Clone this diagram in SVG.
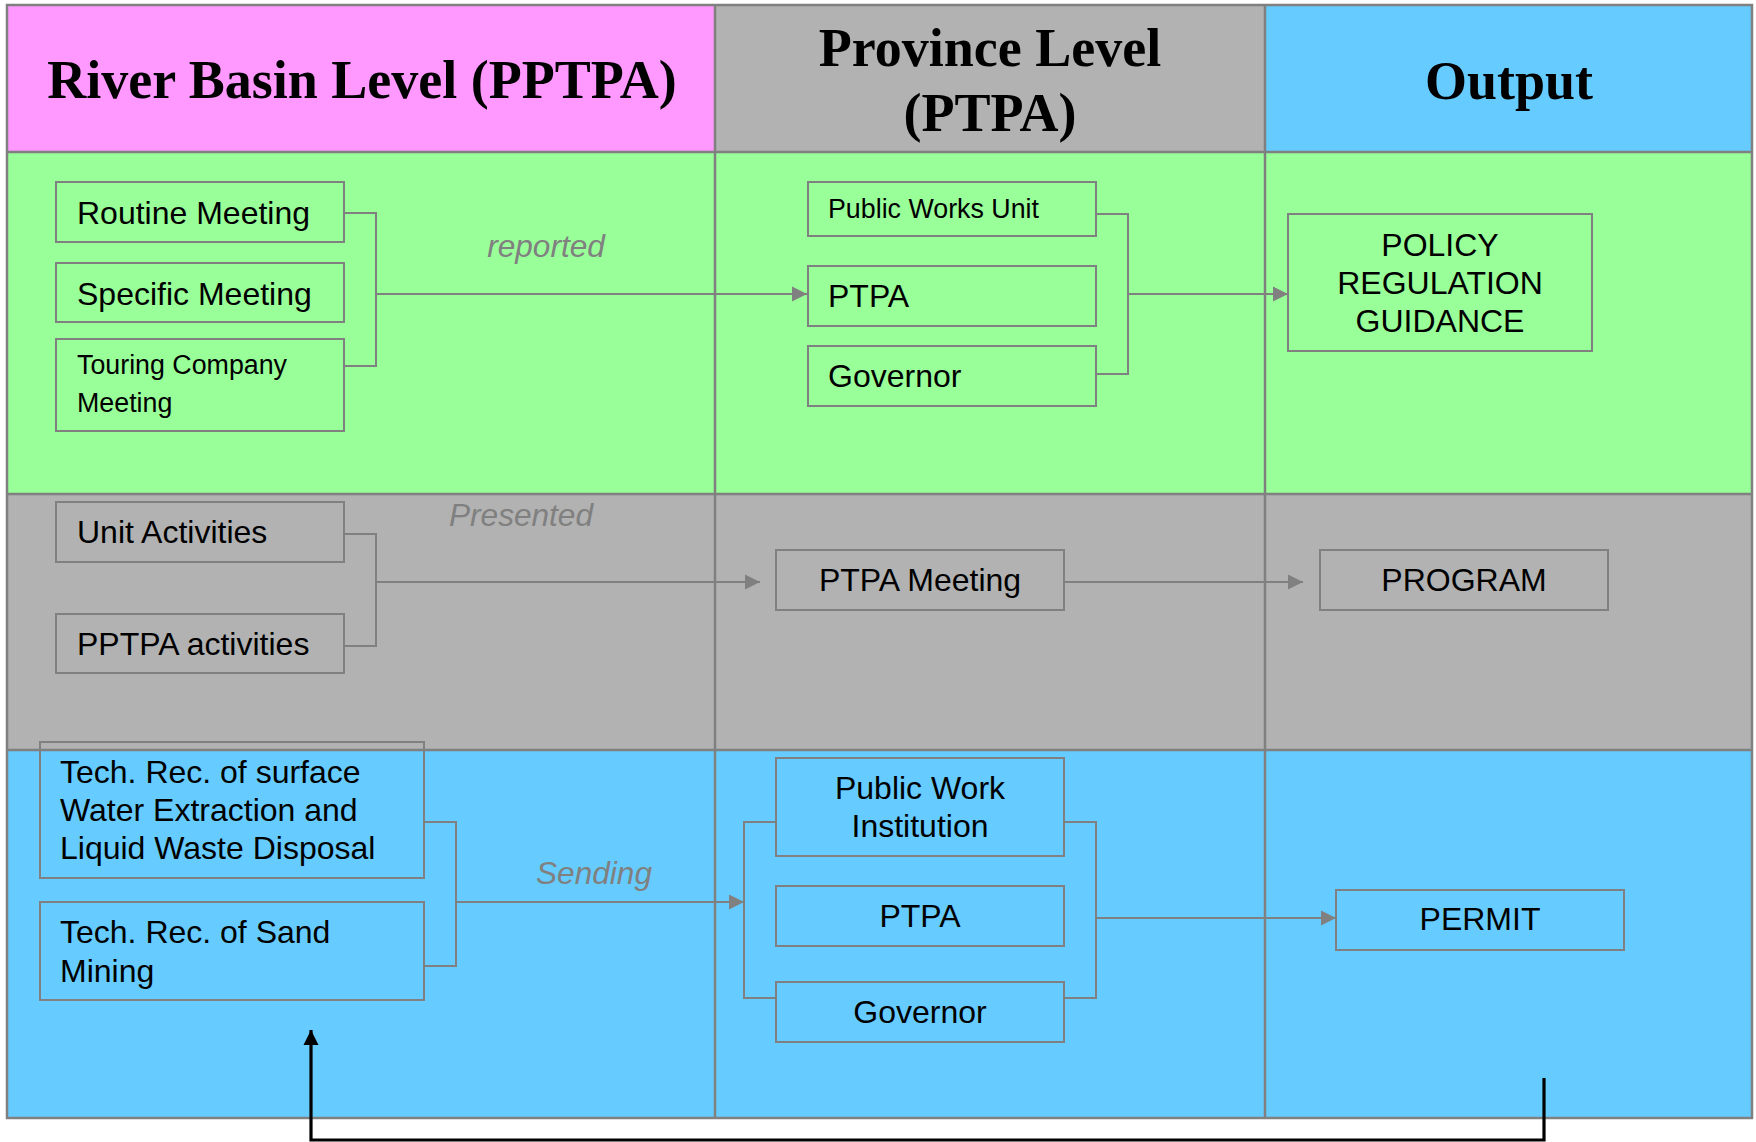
<svg xmlns="http://www.w3.org/2000/svg" width="1756" height="1142" viewBox="0 0 1756 1142">
<style>
.hdr{font-family:"Liberation Serif","Times New Roman",serif;font-weight:bold;font-size:54px;fill:#000;text-anchor:middle}
.t{font-family:"Liberation Sans",Arial,sans-serif;font-size:32px;fill:#000}
.ts{font-family:"Liberation Sans",Arial,sans-serif;font-size:26.8px;fill:#000}
.c{text-anchor:middle}
.lbl{font-family:"Liberation Sans",Arial,sans-serif;font-size:31.6px;font-style:italic;fill:#808080;text-anchor:middle}
.box{fill:none;stroke:#808080;stroke-width:2}
.grid{fill:none;stroke:#808080;stroke-width:2.5}
.con{fill:none;stroke:#808080;stroke-width:2}
.fb{fill:none;stroke:#000;stroke-width:3.2}
</style>
<defs>
<marker id="ag" markerUnits="userSpaceOnUse" markerWidth="16" markerHeight="16" refX="15" refY="8" orient="auto"><path d="M0,0.5 L15,8 L0,15.5 Z" fill="#808080"/></marker>
<marker id="ab" markerUnits="userSpaceOnUse" markerWidth="16" markerHeight="16" refX="15" refY="8" orient="auto"><path d="M0,0.5 L15,8 L0,15.5 Z" fill="#000"/></marker>
</defs>
<rect width="1756" height="1142" fill="#fff"/>
<g id="background">
<rect x="7" y="5" width="708" height="147" fill="#FF99FF"/>
<rect x="715" y="5" width="550" height="147" fill="#B2B2B2"/>
<rect x="1265" y="5" width="487" height="147" fill="#66CCFF"/>
<rect x="7" y="152" width="1745" height="342" fill="#99FF99"/>
<rect x="7" y="494" width="1745" height="256" fill="#B2B2B2"/>
<rect x="7" y="750" width="1745" height="368" fill="#66CCFF"/>
<path class="grid" d="M7,5 H1752 V1118 H7 Z M7,152 H1752 M7,494 H1752 M7,750 H1752 M715,5 V1118 M1265,5 V1118"/>
<text class="hdr" x="362" y="98">River Basin Level (PPTPA)</text>
<text class="hdr" x="990" y="66">Province Level</text>
<text class="hdr" x="990" y="131">(PTPA)</text>
<text class="hdr" x="1509" y="99">Output</text>
</g>
<g id="connectors">
<path class="con" d="M344,213 H376 V366 H344 M376,294 H807" marker-end="url(#ag)"/>
<path class="con" d="M1096,214 H1128 V374 H1096 M1128,294 H1288" marker-end="url(#ag)"/>
<path class="con" d="M344,534 H376 V646 H344 M376,582 H760" marker-end="url(#ag)"/>
<path class="con" d="M1064,582 H1303" marker-end="url(#ag)"/>
<path class="con" d="M424,822 H456 V966 H424 M456,902 H744" marker-end="url(#ag)"/>
<path class="con" d="M775,822 H744 V998 H775"/>
<path class="con" d="M1064,822 H1096 V998 H1064 M1096,918 H1336" marker-end="url(#ag)"/>
<path class="fb" d="M1544,1078 V1140 H311 V1030" marker-end="url(#ab)"/>
<text class="lbl" x="546" y="257">reported</text>
<text class="lbl" x="521" y="526">Presented</text>
<text class="lbl" x="594" y="884">Sending</text>
</g>
<g id="routine-meeting"><rect class="box" x="56" y="182" width="288" height="60"/><text class="t" x="77" y="224">Routine Meeting</text></g>
<g id="specific-meeting"><rect class="box" x="56" y="263" width="288" height="59"/><text class="t" x="77" y="305">Specific Meeting</text></g>
<g id="touring-company-meeting"><rect class="box" x="56" y="339" width="288" height="92"/><text class="ts" x="77" y="374">Touring Company</text><text class="ts" x="77" y="412">Meeting</text></g>
<g id="public-works-unit"><rect class="box" x="808" y="182" width="288" height="54"/><text class="ts" x="828" y="218">Public Works Unit</text></g>
<g id="ptpa-1"><rect class="box" x="808" y="266" width="288" height="60"/><text class="t" x="828" y="307">PTPA</text></g>
<g id="governor-1"><rect class="box" x="808" y="346" width="288" height="60"/><text class="t" x="828" y="387">Governor</text></g>
<g id="policy"><rect class="box" x="1288" y="214" width="304" height="137"/><text class="t c" x="1440" y="256">POLICY</text><text class="t c" x="1440" y="294">REGULATION</text><text class="t c" x="1440" y="332">GUIDANCE</text></g>
<g id="unit-activities"><rect class="box" x="56" y="502" width="288" height="60"/><text class="t" x="77" y="543">Unit Activities</text></g>
<g id="pptpa-activities"><rect class="box" x="56" y="614" width="288" height="59"/><text class="t" x="77" y="655">PPTPA activities</text></g>
<g id="ptpa-meeting"><rect class="box" x="776" y="550" width="288" height="60"/><text class="t c" x="920" y="591">PTPA Meeting</text></g>
<g id="program"><rect class="box" x="1320" y="550" width="288" height="60"/><text class="t c" x="1464" y="591">PROGRAM</text></g>
<g id="tech-rec-water"><rect class="box" x="40" y="742" width="384" height="136"/><text class="t" x="60" y="783">Tech. Rec. of surface</text><text class="t" x="60" y="821">Water Extraction and</text><text class="t" x="60" y="859">Liquid Waste Disposal</text></g>
<g id="tech-rec-sand"><rect class="box" x="40" y="902" width="384" height="98"/><text class="t" x="60" y="943">Tech. Rec. of Sand</text><text class="t" x="60" y="982">Mining</text></g>
<g id="public-work-institution"><rect class="box" x="776" y="758" width="288" height="98"/><text class="t c" x="920" y="799">Public Work</text><text class="t c" x="920" y="837">Institution</text></g>
<g id="ptpa-2"><rect class="box" x="776" y="886" width="288" height="60"/><text class="t c" x="920" y="927">PTPA</text></g>
<g id="governor-2"><rect class="box" x="776" y="982" width="288" height="60"/><text class="t c" x="920" y="1023">Governor</text></g>
<g id="permit"><rect class="box" x="1336" y="890" width="288" height="60"/><text class="t c" x="1480" y="930">PERMIT</text></g>
</svg>
